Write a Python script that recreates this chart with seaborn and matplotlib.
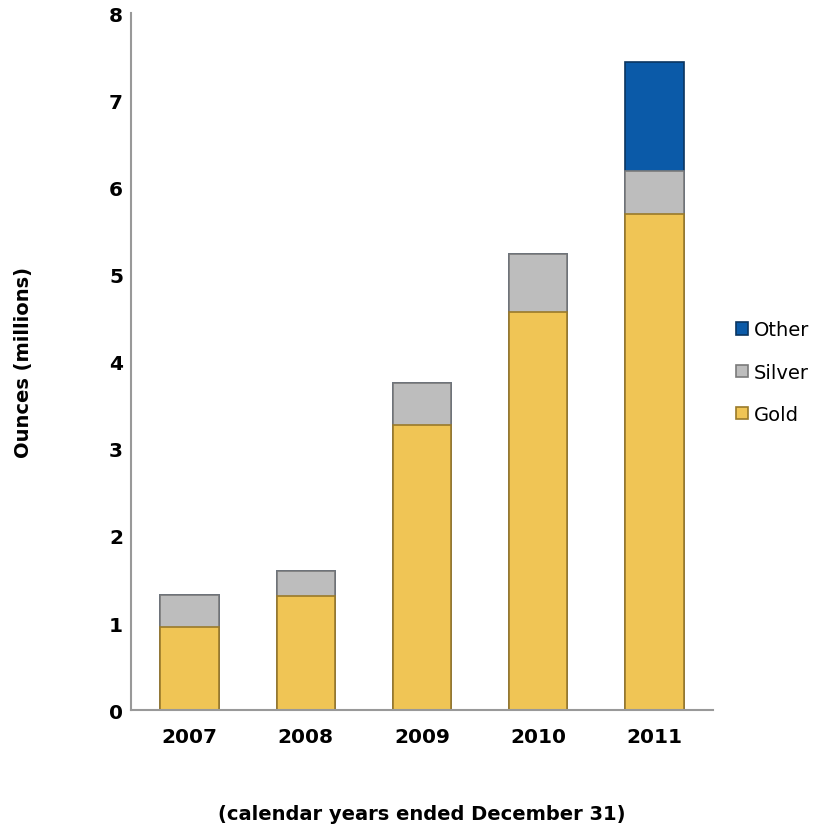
import pandas as pd
import matplotlib.pyplot as plt
import seaborn as sns

# Values (millions of ounces)
years = ['2007', '2008', '2009', '2010', '2011']
gold = [0.96, 1.31, 3.27, 4.57, 5.69]
silver = [0.36, 0.29, 0.48, 0.67, 0.50]
other = [0.0, 0.0, 0.0, 0.0, 1.25]

colors = {'Gold': '#F0C555', 'Silver': '#BDBDBD', 'Other': '#0B5AA8'}
edges = {'Gold': '#9A7A2A', 'Silver': '#7A7A7A', 'Other': '#0A3560'}

df = pd.DataFrame({'Year': years, 'Gold': gold, 'Silver': silver, 'Other': other})
df['Gold+Silver'] = df['Gold'] + df['Silver']
df['Total'] = df['Gold+Silver'] + df['Other']

sns.set_style('white')
plt.rcParams['font.family'] = ['DejaVu Sans']
plt.rcParams['text.color'] = 'black'
plt.rcParams['axes.labelcolor'] = 'black'
plt.rcParams['xtick.color'] = 'black'
plt.rcParams['ytick.color'] = 'black'

fig = plt.figure(figsize=(8.21, 8.29), dpi=100)
ax = fig.add_axes([0.16, 0.142, 0.708, 0.841])

# stacked bars drawn as overlapping cumulative totals
layers = [('Total', 'Other'), ('Gold+Silver', 'Silver'), ('Gold', 'Gold')]
for col, name in layers:
    sns.barplot(data=df, x='Year', y=col, color=colors[name], width=0.5,
                edgecolor=edges[name], linewidth=1.2, saturation=1,
                ax=ax, label=name)

ax.set_ylim(0, 8)
ax.set_yticks(range(0, 9))
ax.tick_params(axis='both', length=0, labelsize=14.5)
for t in ax.get_xticklabels() + ax.get_yticklabels():
    t.set_fontweight('bold')
ax.tick_params(axis='x', pad=12)
ax.tick_params(axis='y', pad=6)

for side in ['top', 'right']:
    ax.spines[side].set_visible(False)
for side in ['left', 'bottom']:
    ax.spines[side].set_color('#999999')
    ax.spines[side].set_linewidth(1.5)

ax.set_xlabel('(calendar years ended December 31)', fontsize=14,
              fontweight='bold', labelpad=42)
ax.set_ylabel('Ounces (millions)', fontsize=14, fontweight='bold', labelpad=55)

handles, labels = ax.get_legend_handles_labels()
ax.legend(handles, labels, loc='center left', bbox_to_anchor=(1.01, 0.485),
          frameon=False, fontsize=14, handlelength=0.6, handleheight=0.6,
          handletextpad=0.3, labelspacing=1.2)

plt.savefig('out.png', dpi=100)
plt.close()
